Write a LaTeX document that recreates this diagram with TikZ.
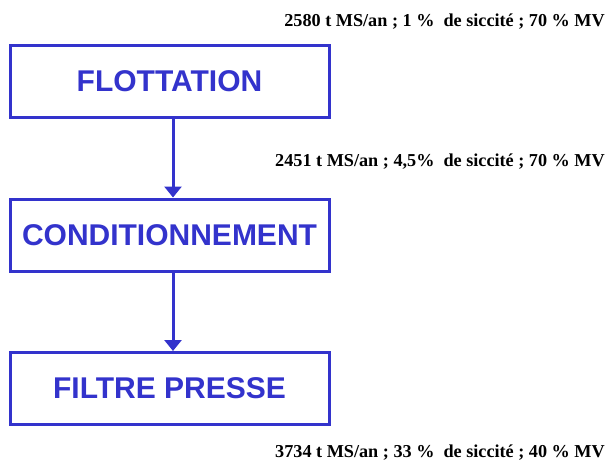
\documentclass[tikz,border=0pt]{standalone}
\usepackage{fontspec}
\setmainfont{Liberation Serif}
\newfontfamily\stagefont{Liberation Sans}
\usetikzlibrary{arrows.meta,positioning}
\definecolor{stageblue}{RGB}{51,51,204}
\tikzset{
  stage/.style={draw=stageblue,line width=3pt,minimum width=319pt,minimum height=72pt,inner sep=0pt,text=stageblue,font=\stagefont\bfseries\fontsize{30}{30}\selectfont},
  flux/.style={stageblue,line width=3pt,-{Triangle[length=11pt,width=17pt]}},
  bilan/.style={anchor=east,inner sep=0pt,font=\bfseries\fontsize{18.2}{18}\selectfont},
}

\begin{document}
\begin{tikzpicture}[x=1pt,y=-1pt]
\useasboundingbox (0,0) rectangle (606,463);
\node[stage] (flot) at (169.5,81) {FLOTTATION};
\node[stage] (cond) at (169.5,235) {CONDITIONNEMENT};
\node[stage] (filtre) at (169.5,388.5) {FILTRE PRESSE};
\draw[flux] ([xshift=3.5pt]flot.south) -- ([xshift=3.5pt]cond.north);
\draw[flux] ([xshift=3.5pt]cond.south) -- ([xshift=3.5pt]filtre.north);
\node[bilan] (b1) at (605,22) {2580 t MS/an ; 1 \%\ \ de siccité ; 70 \% MV};
\node[bilan] (b2) at (605,162) {2451 t MS/an ; 4,5\%\ \ de siccité ; 70 \% MV};
\node[bilan] (b3) at (605,453) {3734 t MS/an ; 33 \%\ \ de siccité ; 40 \% MV};
\end{tikzpicture}
\end{document}
